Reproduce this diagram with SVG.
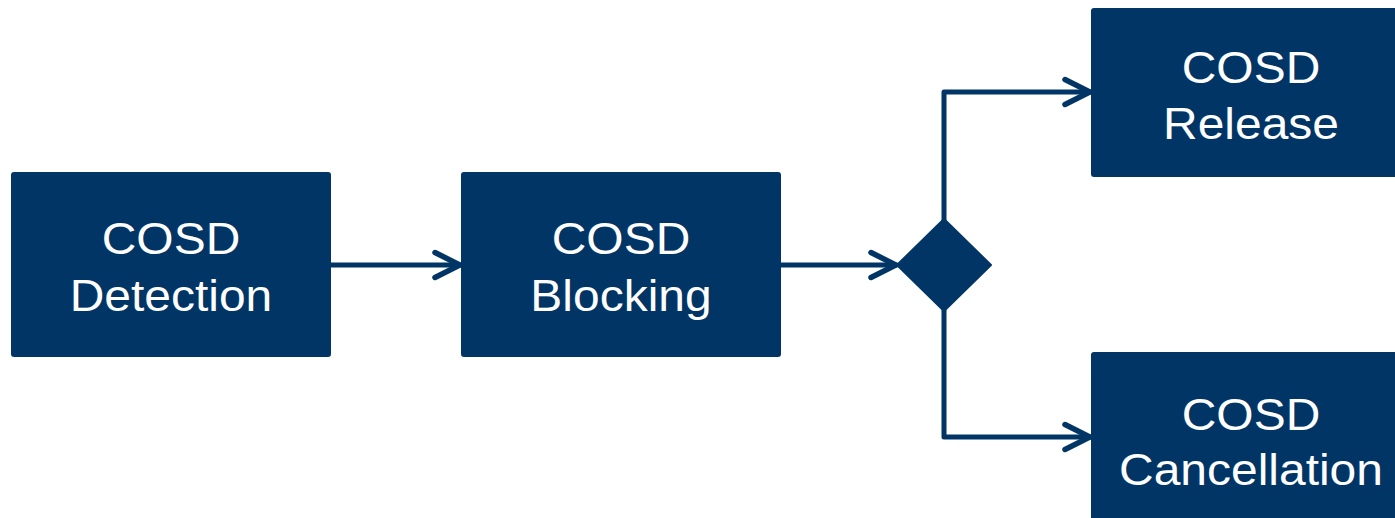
<svg xmlns="http://www.w3.org/2000/svg" width="1395" height="518" viewBox="0 0 1395 518">
<style>
.box{fill:#003566}
.lbl{fill:#ffffff;font-family:"Liberation Sans",Arial,sans-serif;font-size:44px;text-anchor:middle}
.con{fill:none;stroke:#003566;stroke-width:5;stroke-linejoin:round;stroke-linecap:round}
</style>
<defs>
<marker id="arr" viewBox="0 0 32 32" refX="28" refY="16" markerWidth="32" markerHeight="32" markerUnits="userSpaceOnUse" orient="auto">
<path d="M3,3.5 L28,16 L3,28.5" fill="none" stroke="#003566" stroke-width="5.5" stroke-linecap="round" stroke-linejoin="miter"/>
</marker>
</defs>
<rect width="1395" height="518" fill="#ffffff"/>
<g id="connectors">
<path class="con" d="M331,265 L460,265" marker-end="url(#arr)"/>
<path class="con" d="M781,265 L896,265" marker-end="url(#arr)"/>
<path class="con" d="M944,220 L944,92 L1090,92" marker-end="url(#arr)"/>
<path class="con" d="M944,310 L944,437 L1090,437" marker-end="url(#arr)"/>
</g>
<g id="detection">
<rect class="box" x="11" y="172" width="320" height="185" rx="3"/>
<g transform="translate(171,0) scale(1.09,1)">
<text class="lbl" x="0" y="254">COSD</text>
<text class="lbl" x="0" y="311">Detection</text>
</g>
</g>
<g id="blocking">
<rect class="box" x="461" y="172" width="320" height="185" rx="3"/>
<g transform="translate(621,0) scale(1.09,1)">
<text class="lbl" x="0" y="254">COSD</text>
<text class="lbl" x="0" y="311">Blocking</text>
</g>
</g>
<g id="decision">
<path class="box" d="M944,219 L991,265 L944,311 L897,265 Z" stroke="#003566" stroke-width="2" stroke-linejoin="round"/>
</g>
<g id="release">
<rect class="box" x="1091" y="8" width="320" height="169" rx="3"/>
<g transform="translate(1251,0) scale(1.09,1)">
<text class="lbl" x="0" y="83">COSD</text>
<text class="lbl" x="0" y="139">Release</text>
</g>
</g>
<g id="cancellation">
<rect class="box" x="1091" y="352" width="320" height="180" rx="3"/>
<g transform="translate(1251,0) scale(1.09,1)">
<text class="lbl" x="0" y="430">COSD</text>
<text class="lbl" x="0" y="485">Cancellation</text>
</g>
</g>
</svg>
